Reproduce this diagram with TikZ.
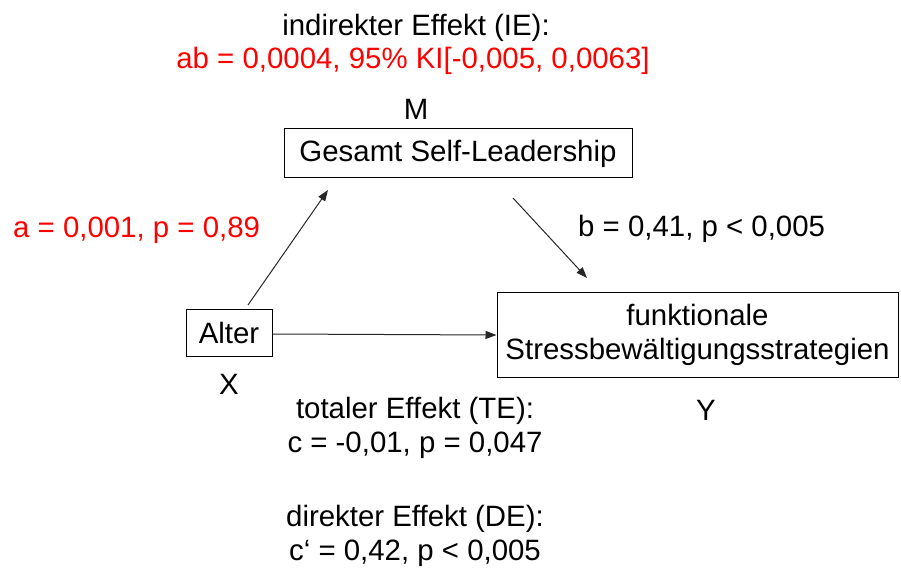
\documentclass[tikz,border=0pt]{standalone}
\usepackage{fontspec}
\setmainfont{Liberation Sans}
\usetikzlibrary{arrows.meta}
\definecolor{redtxt}{RGB}{255,0,0}
\tikzset{
  lbl/.style={inner sep=0pt, font=\fontsize{29.4}{34}\selectfont, text=black},
  redlbl/.style={lbl, text=redtxt},
  boxn/.style={draw=black, line width=1pt, inner sep=0pt, font=\fontsize{29.4}{34}\selectfont},
  arr/.style={draw=black!85, line width=1pt, -{Triangle[length=11pt,width=8pt]}}
}
\begin{document}
\begin{tikzpicture}[x=1pt,y=-1pt]
\useasboundingbox (0,0) rectangle (901,569);
% texts
\node[lbl] (ie) at (416,28) {indirekter Effekt (IE):};
\node[redlbl] (iev) at (413,61) {ab = 0,0004, 95\% KI[-0,005, 0,0063]};
\node[lbl] (ml) at (416,109) {M};
% boxes
\node[boxn, minimum width=348pt, minimum height=49pt] (m) at (458,153.5) {Gesamt Self-Leadership};
\node[boxn, minimum width=86pt, minimum height=47pt] (x) at (229,332.5) {Alter};
\node[boxn, minimum width=401pt, minimum height=85pt, align=center] (y) at (697.5,334.5) {funktionale\\[0pt]Stressbewältigungsstrategien};
\node[lbl] (xl) at (229,384) {X};
\node[lbl] (yl) at (706,410) {Y};
% path labels
\node[redlbl, anchor=west] (al) at (13,230) {a = 0,001, p = 0,89};
\node[lbl, anchor=west] (bl) at (578,229) {b = 0,41, p < 0,005};
\node[lbl, align=center] (te) at (415,428) {totaler Effekt (TE):\\[0pt]c = -0,01, p = 0,047};
\node[lbl, align=center] (de) at (415,536) {direkter Effekt (DE):\\[0pt]c‘ = 0,42, p < 0,005};
% connector end points
\coordinate (a0) at (248,305);
\coordinate (a1) at (328,190);
\coordinate (b0) at (513,198);
\coordinate (b1) at (587,278);
\draw[arr] (a0) -- (a1);
\draw[arr] (b0) -- (b1);
\draw[arr] (x.east |- 0,334) -- (y.west |- 0,335);
\end{tikzpicture}
\end{document}
